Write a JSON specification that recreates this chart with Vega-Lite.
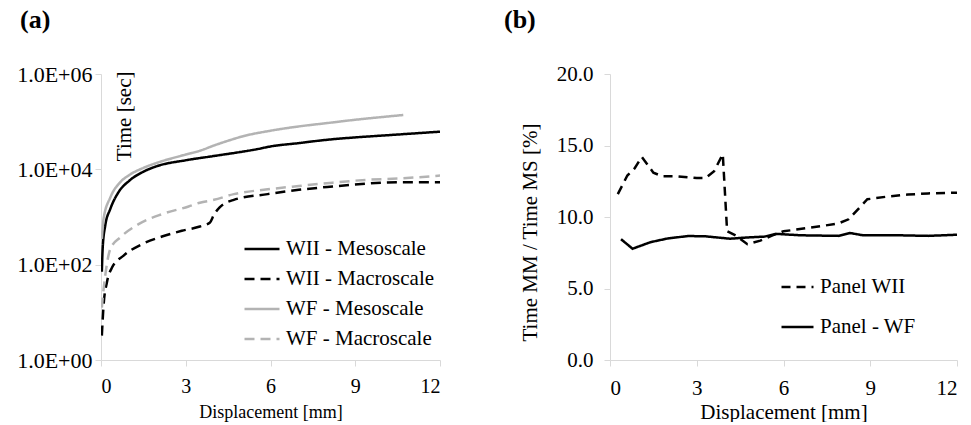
{
  "$schema": "https://vega.github.io/schema/vega-lite/v6.json",
  "padding": {"left": 16, "top": 7, "right": 0, "bottom": 0},
  "background": "white",
  "bounds": "flush",
  "spacing": 170,
  "resolve": {"scale": {"color": "independent", "strokeDash": "independent", "x": "independent", "y": "independent"}, "legend": {"color": "independent", "strokeDash": "independent"}},
  "datasets": {
    "a": [
      {"x": 0.03, "y": 70.8, "series": "WII - Mesoscale"},
      {"x": 0.06, "y": 224, "series": "WII - Mesoscale"},
      {"x": 0.15, "y": 661, "series": "WII - Mesoscale"},
      {"x": 0.33, "y": 1479, "series": "WII - Mesoscale"},
      {"x": 0.62, "y": 3311, "series": "WII - Mesoscale"},
      {"x": 1.0, "y": 5754, "series": "WII - Mesoscale"},
      {"x": 1.5, "y": 8913, "series": "WII - Mesoscale"},
      {"x": 2.0, "y": 11749, "series": "WII - Mesoscale"},
      {"x": 3.0, "y": 15488, "series": "WII - Mesoscale"},
      {"x": 4.0, "y": 19055, "series": "WII - Mesoscale"},
      {"x": 5.0, "y": 23442, "series": "WII - Mesoscale"},
      {"x": 5.5, "y": 26303, "series": "WII - Mesoscale"},
      {"x": 6.0, "y": 30200, "series": "WII - Mesoscale"},
      {"x": 7.0, "y": 35481, "series": "WII - Mesoscale"},
      {"x": 8.0, "y": 41687, "series": "WII - Mesoscale"},
      {"x": 9.0, "y": 46774, "series": "WII - Mesoscale"},
      {"x": 10.0, "y": 51286, "series": "WII - Mesoscale"},
      {"x": 11.0, "y": 56234, "series": "WII - Mesoscale"},
      {"x": 12.0, "y": 61660, "series": "WII - Mesoscale"},
      {"x": 0.03, "y": 3.24, "series": "WII - Macroscale"},
      {"x": 0.09, "y": 13.8, "series": "WII - Macroscale"},
      {"x": 0.21, "y": 42.7, "series": "WII - Macroscale"},
      {"x": 0.39, "y": 87.1, "series": "WII - Macroscale"},
      {"x": 0.8, "y": 155, "series": "WII - Macroscale"},
      {"x": 1.45, "y": 269, "series": "WII - Macroscale"},
      {"x": 2.16, "y": 389, "series": "WII - Macroscale"},
      {"x": 2.86, "y": 513, "series": "WII - Macroscale"},
      {"x": 3.5, "y": 631, "series": "WII - Macroscale"},
      {"x": 3.85, "y": 759, "series": "WII - Macroscale"},
      {"x": 4.0, "y": 1122, "series": "WII - Macroscale"},
      {"x": 4.2, "y": 1585, "series": "WII - Macroscale"},
      {"x": 4.7, "y": 2291, "series": "WII - Macroscale"},
      {"x": 5.9, "y": 3020, "series": "WII - Macroscale"},
      {"x": 7.0, "y": 3715, "series": "WII - Macroscale"},
      {"x": 8.2, "y": 4365, "series": "WII - Macroscale"},
      {"x": 9.4, "y": 5012, "series": "WII - Macroscale"},
      {"x": 10.6, "y": 5370, "series": "WII - Macroscale"},
      {"x": 12.0, "y": 5370, "series": "WII - Macroscale"},
      {"x": 0.03, "y": 347, "series": "WF - Mesoscale"},
      {"x": 0.09, "y": 912, "series": "WF - Mesoscale"},
      {"x": 0.33, "y": 2570, "series": "WF - Mesoscale"},
      {"x": 0.68, "y": 5370, "series": "WF - Mesoscale"},
      {"x": 1.0, "y": 7586, "series": "WF - Mesoscale"},
      {"x": 1.5, "y": 10715, "series": "WF - Mesoscale"},
      {"x": 2.0, "y": 13804, "series": "WF - Mesoscale"},
      {"x": 3.0, "y": 20417, "series": "WF - Mesoscale"},
      {"x": 3.5, "y": 24547, "series": "WF - Mesoscale"},
      {"x": 4.0, "y": 31623, "series": "WF - Mesoscale"},
      {"x": 4.5, "y": 39811, "series": "WF - Mesoscale"},
      {"x": 5.0, "y": 48978, "series": "WF - Mesoscale"},
      {"x": 6.0, "y": 64565, "series": "WF - Mesoscale"},
      {"x": 7.0, "y": 79433, "series": "WF - Mesoscale"},
      {"x": 8.0, "y": 93325, "series": "WF - Mesoscale"},
      {"x": 9.0, "y": 109648, "series": "WF - Mesoscale"},
      {"x": 10.0, "y": 125893, "series": "WF - Mesoscale"},
      {"x": 10.7, "y": 138038, "series": "WF - Mesoscale"},
      {"x": 0.03, "y": 12.6, "series": "WF - Macroscale"},
      {"x": 0.06, "y": 20, "series": "WF - Macroscale"},
      {"x": 0.15, "y": 58.9, "series": "WF - Macroscale"},
      {"x": 0.33, "y": 214, "series": "WF - Macroscale"},
      {"x": 0.68, "y": 372, "series": "WF - Macroscale"},
      {"x": 1.33, "y": 708, "series": "WF - Macroscale"},
      {"x": 2.16, "y": 1148, "series": "WF - Macroscale"},
      {"x": 3.1, "y": 1660, "series": "WF - Macroscale"},
      {"x": 3.5, "y": 1995, "series": "WF - Macroscale"},
      {"x": 4.0, "y": 2291, "series": "WF - Macroscale"},
      {"x": 4.7, "y": 3020, "series": "WF - Macroscale"},
      {"x": 5.9, "y": 3802, "series": "WF - Macroscale"},
      {"x": 7.0, "y": 4467, "series": "WF - Macroscale"},
      {"x": 8.2, "y": 5248, "series": "WF - Macroscale"},
      {"x": 9.4, "y": 6026, "series": "WF - Macroscale"},
      {"x": 10.6, "y": 6457, "series": "WF - Macroscale"},
      {"x": 12.0, "y": 7413, "series": "WF - Macroscale"}
    ],
    "b": [
      {"x": 0.27, "y": 11.6, "series": "Panel WII"},
      {"x": 0.6, "y": 12.9, "series": "Panel WII"},
      {"x": 0.85, "y": 13.4, "series": "Panel WII"},
      {"x": 1.1, "y": 14.2, "series": "Panel WII"},
      {"x": 1.5, "y": 13.1, "series": "Panel WII"},
      {"x": 1.8, "y": 12.85, "series": "Panel WII"},
      {"x": 2.3, "y": 12.85, "series": "Panel WII"},
      {"x": 3.0, "y": 12.72, "series": "Panel WII"},
      {"x": 3.3, "y": 12.72, "series": "Panel WII"},
      {"x": 3.6, "y": 13.2, "series": "Panel WII"},
      {"x": 3.9, "y": 14.4, "series": "Panel WII"},
      {"x": 4.05, "y": 9.0, "series": "Panel WII"},
      {"x": 4.35, "y": 8.7, "series": "Panel WII"},
      {"x": 4.75, "y": 8.1, "series": "Panel WII"},
      {"x": 5.2, "y": 8.35, "series": "Panel WII"},
      {"x": 5.6, "y": 8.7, "series": "Panel WII"},
      {"x": 6.0, "y": 9.0, "series": "Panel WII"},
      {"x": 7.2, "y": 9.33, "series": "Panel WII"},
      {"x": 7.9, "y": 9.55, "series": "Panel WII"},
      {"x": 8.25, "y": 9.84, "series": "Panel WII"},
      {"x": 8.9, "y": 11.24, "series": "Panel WII"},
      {"x": 9.6, "y": 11.43, "series": "Panel WII"},
      {"x": 10.3, "y": 11.57, "series": "Panel WII"},
      {"x": 11.0, "y": 11.65, "series": "Panel WII"},
      {"x": 12.0, "y": 11.7, "series": "Panel WII"},
      {"x": 0.38, "y": 8.45, "series": "Panel - WF"},
      {"x": 0.78, "y": 7.78, "series": "Panel - WF"},
      {"x": 1.4, "y": 8.24, "series": "Panel - WF"},
      {"x": 2.0, "y": 8.5, "series": "Panel - WF"},
      {"x": 2.7, "y": 8.67, "series": "Panel - WF"},
      {"x": 3.3, "y": 8.65, "series": "Panel - WF"},
      {"x": 4.15, "y": 8.48, "series": "Panel - WF"},
      {"x": 4.75, "y": 8.57, "series": "Panel - WF"},
      {"x": 5.35, "y": 8.63, "series": "Panel - WF"},
      {"x": 5.75, "y": 8.82, "series": "Panel - WF"},
      {"x": 6.6, "y": 8.72, "series": "Panel - WF"},
      {"x": 7.9, "y": 8.68, "series": "Panel - WF"},
      {"x": 8.3, "y": 8.88, "series": "Panel - WF"},
      {"x": 8.75, "y": 8.72, "series": "Panel - WF"},
      {"x": 10.0, "y": 8.72, "series": "Panel - WF"},
      {"x": 11.0, "y": 8.68, "series": "Panel - WF"},
      {"x": 12.0, "y": 8.76, "series": "Panel - WF"}
    ]
  },
  "hconcat": [
    {
      "width": 339,
      "height": 286,
      "title": {"text": "(a)", "anchor": "start", "frame": "group", "font": "Liberation Serif", "fontSize": 26, "fontWeight": "bold", "color": "#000", "baseline": "alphabetic", "offset": 9, "dx": -81},
      "data": {"name": "a"},
      "mark": {"type": "line", "strokeWidth": 2.5, "interpolate": "monotone", "clip": true},
      "encoding": {
        "x": {"field": "x", "type": "quantitative", "scale": {"domain": [0, 12], "nice": false},
          "axis": {"values": [0, 3, 6, 9, 12], "format": "d", "title": "Displacement [mm]", "titleFontSize": 18, "labelFontSize": 20, "labelPadding": 10, "titleY": 57, "titleBaseline": "alphabetic"}},
        "y": {"field": "y", "type": "quantitative", "scale": {"type": "log", "domain": [1, 1000000], "nice": false},
          "axis": {"values": [1, 100, 10000, 1000000], "labelExpr": "datum.value >= 100000 ? '1.0E+06' : datum.value >= 1000 ? '1.0E+04' : datum.value >= 10 ? '1.0E+02' : '1.0E+00'", "labelFontSize": 22, "labelPadding": 3, "title": "Time  [sec]", "titleFontSize": 21, "titleX": 29, "titleY": -3, "titleAlign": "right", "titleAngle": 270, "titleBaseline": "alphabetic"}},
        "color": {"field": "series", "type": "nominal",
          "scale": {"domain": ["WII - Mesoscale", "WII - Macroscale", "WF - Mesoscale", "WF - Macroscale"], "range": ["#000000", "#000000", "#b3b3b3", "#b3b3b3"]},
          "legend": {"title": null, "orient": "none", "legendX": 142, "legendY": 160, "symbolSize": 1225, "clipHeight": 30, "labelFontSize": 21}},
        "strokeDash": {"field": "series", "type": "nominal",
          "scale": {"domain": ["WII - Mesoscale", "WII - Macroscale", "WF - Mesoscale", "WF - Macroscale"], "range": [[1, 0], [10, 6], [1, 0], [10, 6]]},
          "legend": {"title": null, "orient": "none", "legendX": 142, "legendY": 160, "symbolSize": 1225, "clipHeight": 30, "labelFontSize": 21}}
      }
    },
    {
      "width": 347,
      "height": 286,
      "title": {"text": "(b)", "anchor": "start", "frame": "group", "font": "Liberation Serif", "fontSize": 26, "fontWeight": "bold", "color": "#000", "baseline": "alphabetic", "offset": 9, "dx": -106},
      "data": {"name": "b"},
      "mark": {"type": "line", "strokeWidth": 2.5, "color": "#000000", "clip": true},
      "encoding": {
        "x": {"field": "x", "type": "quantitative", "scale": {"domain": [0, 12], "nice": false},
          "axis": {"values": [0, 3, 6, 9, 12], "format": "d", "title": "Displacement [mm]", "titleFontSize": 21, "labelFontSize": 21, "labelPadding": 11, "titleY": 58, "titleBaseline": "alphabetic"}},
        "y": {"field": "y", "type": "quantitative", "scale": {"domain": [0, 20], "nice": false},
          "axis": {"values": [0, 5, 10, 15, 20], "format": ".1f", "labelFontSize": 21, "labelPadding": 11, "title": "Time MM / Time MS [%]", "titleFontSize": 21, "titleX": -74, "titleY": 158, "titleAlign": "center", "titleAngle": 270, "titleBaseline": "alphabetic"}},
        "strokeDash": {"field": "series", "type": "nominal",
          "scale": {"domain": ["Panel WII", "Panel - WF"], "range": [[9, 6], [1, 0]]},
          "legend": {"title": null, "orient": "none", "legendX": 170, "legendY": 193, "symbolSize": 1024, "clipHeight": 40, "labelFontSize": 21}}
      }
    }
  ],
  "config": {
    "font": "Liberation Serif",
    "view": {"stroke": null},
    "axis": {"domainColor": "#d9d9d9", "tickColor": "#d9d9d9", "tickSize": 6, "grid": false, "labelFont": "Liberation Serif", "titleFont": "Liberation Serif", "labelColor": "#000000", "titleColor": "#000000", "titleFontWeight": "normal"},
    "legend": {"labelFont": "Liberation Serif", "labelFontSize": 20, "labelColor": "#000000", "padding": 0, "rowPadding": 0, "labelOffset": 5, "labelLimit": 300, "symbolStrokeWidth": 2.5, "symbolStrokeColor": "#000000"}
  }
}
